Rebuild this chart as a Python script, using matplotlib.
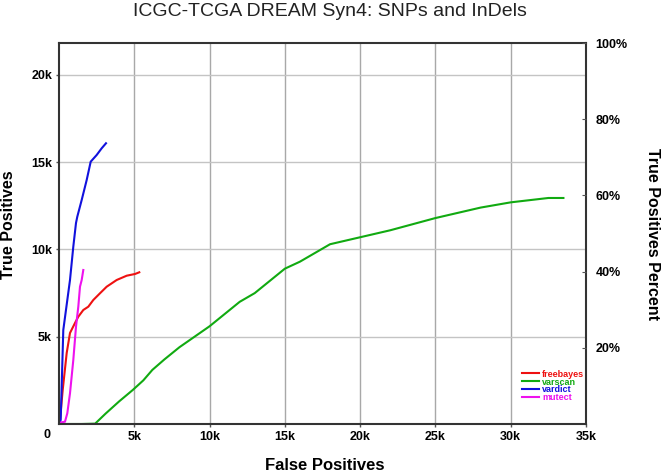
import matplotlib
matplotlib.use('Agg')
import matplotlib.pyplot as plt
from matplotlib.ticker import FuncFormatter

plt.rcParams['font.family'] = ['Liberation Sans', 'DejaVu Sans']

# false positives / true positives
vardict_fp = [0, 113, 285, 730, 950, 1129, 1215, 1507, 1839, 2105, 2503, 2835, 3121]
vardict_tp = [0, 229, 5386, 8250, 10161, 11517, 11878, 12835, 13981, 15030, 15414, 15798, 16085]

freebayes_fp = [0, 66, 246, 511, 730, 1062, 1282, 1614, 1946, 2278, 2722, 3167, 3831, 4495, 5046, 5332]
freebayes_tp = [0, 229, 1948, 4068, 5214, 5787, 6148, 6532, 6721, 7105, 7489, 7867, 8251, 8497, 8595, 8692]

mutect_fp = [0, 20, 398, 551, 730, 950, 1129, 1282, 1394, 1507, 1614]
mutect_tp = [0, 74, 132, 613, 1759, 3667, 5575, 6721, 7867, 8251, 8824]

varscan_fp = [0, 1500, 2400, 3100, 4000, 4900, 5600, 6200, 7000, 8000, 9000, 10000, 11000,
              12000, 13000, 14000, 15000, 16000, 17000, 18000, 20000, 22000, 25000, 28000,
              30000, 31500, 32500, 33500]
varscan_tp = [0, 0, 20, 600, 1300, 1950, 2500, 3100, 3700, 4400, 5000, 5600, 6300,
              7000, 7500, 8200, 8900, 9300, 9800, 10300, 10700, 11100, 11800, 12400,
              12700, 12850, 12950, 12950]

callers = ['freebayes', 'varscan', 'vardict', 'mutect']
colors = ['#ee1111', '#11aa11', '#1111dd', '#ee11ee']

x_ticks = [5000, 10000, 15000, 20000, 25000, 30000, 35000]
y_ticks = [5000, 10000, 15000, 20000]
pct_ticks = [20, 40, 60, 80, 100]

fig = plt.figure(figsize=(6.61, 4.75), dpi=100)
ax = fig.add_axes([59 / 661, 1 - 424 / 475, 527 / 661, 381 / 475])

ax.plot(freebayes_fp, freebayes_tp, color=colors[0], lw=1.5, label=callers[0])
ax.plot(varscan_fp, varscan_tp, color=colors[1], lw=1.5, label=callers[1])
ax.plot(vardict_fp, vardict_tp, color=colors[2], lw=1.5, label=callers[2])
ax.plot(mutect_fp, mutect_tp, color=colors[3], lw=1.5, label=callers[3])

ax.set_xlim(0, 35000)
ax.set_ylim(0, 21830)
ax.set_xticks(x_ticks)
ax.set_yticks(y_ticks)
kfmt = FuncFormatter(lambda v, p: '%dk' % (v / 1000))
ax.xaxis.set_major_formatter(kfmt)
ax.yaxis.set_major_formatter(kfmt)
ax.xaxis.grid(True, color='#a8a8a8', lw=1)
ax.yaxis.grid(True, color='#c4c4c4', lw=1)
ax.set_axisbelow(True)
ax.tick_params(axis='both', length=2, width=1, color='#555555', labelsize=9, pad=3)
for lab in ax.get_xticklabels() + ax.get_yticklabels():
    lab.set_fontweight('bold')
for sp in ax.spines.values():
    sp.set_color('#333333')
    sp.set_linewidth(1.5)

ax2 = ax.twinx()
ax2.set_ylim(0, 100)
ax2.set_yticks(pct_ticks)
ax2.yaxis.set_major_formatter(FuncFormatter(lambda v, p: '%d%%' % v))
ax2.tick_params(axis='y', direction='in', length=3, color='#555555', labelsize=9, pad=7)
for lab in ax2.get_yticklabels():
    lab.set_fontweight('bold')
for sp in ax2.spines.values():
    sp.set_visible(False)

# shared corner zero
fig.text(47 / 661, 1 - 435 / 475, '0', fontsize=9, fontweight='bold', ha='center', va='center')

leg = ax.legend(loc='lower right', bbox_to_anchor=(1.005, 0.045), frameon=False,
                prop={'size': 6.5, 'weight': 'bold'},
                handlelength=1.9, handletextpad=0.3, labelspacing=-0.12, borderaxespad=0.1,
                labelcolor='linecolor')

fig.text(330 / 661, 1 - 11 / 475, 'ICGC-TCGA DREAM Syn4: SNPs and InDels', fontsize=14,
         ha='center', va='center', color='#222222')
fig.text(325 / 661, 1 - 465 / 475, 'False Positives', fontsize=12, fontweight='bold',
         ha='center', va='center')
fig.text(1 / 661, 1 - 225 / 475, 'True Positives', fontsize=11.5, fontweight='bold',
         ha='left', va='center', rotation=90)
fig.text(660 / 661, 1 - 234 / 475, 'True Positives Percent', fontsize=11.5, fontweight='bold',
         ha='right', va='center', rotation=270)

fig.savefig('out.png', dpi=100)
